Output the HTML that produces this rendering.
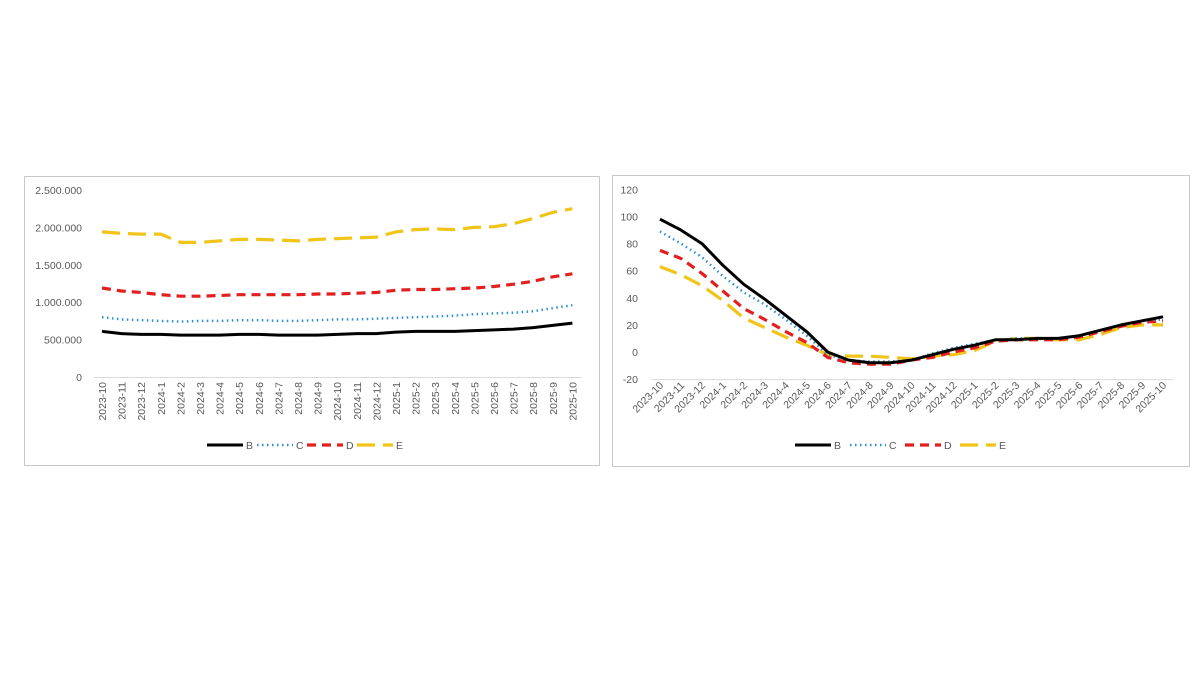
<!DOCTYPE html>
<html><head><meta charset="utf-8"><style>
html,body{margin:0;padding:0;background:#fff;}
svg{display:block;font-family:"Liberation Sans",sans-serif;}
</style></head><body>
<svg id="s" width="1200" height="675" xmlns="http://www.w3.org/2000/svg">
<rect x="24.5" y="176.5" width="575" height="289" fill="#fff" stroke="#c8c8c8"/>
<rect x="612.5" y="175.5" width="577" height="291" fill="#fff" stroke="#c8c8c8"/>
</svg>
<script>
const s=document.getElementById('s');
const NS='http://www.w3.org/2000/svg';
function el(t,a,txt){const e=document.createElementNS(NS,t);for(const k in a)e.setAttribute(k,a[k]);if(txt!==undefined)e.textContent=txt;s.appendChild(e);return e;}
const labels=[];for(let i=0;i<25;i++){let y=2023,m=10+i;while(m>12){m-=12;y++;}labels.push(y+'-'+m);}
const styles={B:{stroke:'#000',w:3,d:''},C:{stroke:'#2e8fd0',w:2.5,d:'1.5 3.5'},D:{stroke:'#e32020',w:3.2,d:'9 6'},E:{stroke:'#f0c419',w:3.2,d:'18 8'}};
const lf={0:'0',500:'500.000',1000:'1.000.000',1500:'1.500.000',2000:'2.000.000',2500:'2.500.000'};
function chart(o){
 o.ticks.forEach(t=>{const y=o.y(t);el('text',{x:o.tx,y:y+4,'text-anchor':'end','font-size':'10.5',fill:'#595959'},o.fmt(t));});
 el('line',{x1:o.x0-8,x2:o.x1+10,y1:o.y(o.ticks[0])+0.5,y2:o.y(o.ticks[0])+0.5,stroke:'#d9d9d9'});
 labels.forEach((l,i)=>{const x=o.x0+i*o.dx;
  if(o.rot===90) el('text',{transform:`translate(${x+4},${o.ly}) rotate(-90)`,'text-anchor':'end','font-size':'10.5',fill:'#595959'},l);
  else el('text',{transform:`translate(${x+4},${o.ly}) rotate(-45)`,'text-anchor':'end','font-size':'10.5',fill:'#595959'},l);});
 ['E','D','C','B'].forEach(k=>{const st=styles[k];const pts=o.data[k].map((v,i)=>(o.x0+i*o.dx).toFixed(1)+','+o.y(v).toFixed(1)).join(' ');
  el('polyline',{points:pts,fill:'none',stroke:st.stroke,'stroke-width':st.w,'stroke-dasharray':st.d,'stroke-linejoin':'round'});});
 let lx=o.lx;['B','C','D','E'].forEach(k=>{const st=styles[k];el('line',{x1:lx,x2:lx+36,y1:o.legy,y2:o.legy,stroke:st.stroke,'stroke-width':st.w,'stroke-dasharray':st.d});
  el('text',{x:lx+39,y:o.legy+4,'font-size':'10.5',fill:'#595959'},k);lx+=o.lstep;});
}
chart({x0:102,x1:572,dx:19.6,y:v=>377-v*187/2500,ticks:[0,500,1000,1500,2000,2500],
 fmt:t=>lf[t],tx:82,ly:382,rot:90,lx:207,lstep:50,legy:445,
 data:{B:[610,580,570,570,560,560,560,570,570,560,560,560,570,580,580,600,610,610,610,620,630,640,660,690,720],
 C:[800,770,760,750,740,750,750,760,760,750,750,760,770,770,780,790,800,810,820,840,850,860,880,920,960],
 D:[1190,1150,1130,1100,1080,1080,1090,1100,1100,1100,1100,1110,1110,1120,1130,1160,1170,1170,1180,1190,1210,1240,1280,1340,1380],
 E:[1940,1920,1910,1910,1800,1800,1820,1840,1840,1830,1820,1840,1850,1860,1870,1940,1970,1980,1970,2000,2010,2050,2120,2200,2250]}});
chart({x0:660,x1:1163,dx:20.96,y:v=>352-v*27.1/20,ticks:[-20,0,20,40,60,80,100,120],
 fmt:t=>String(t),tx:638,ly:386,rot:45,lx:795,lstep:55,legy:445,
 data:{B:[98,90,80,64,50,39,27,15,0,-6,-8,-8,-6,-2,2,5,9,9,10,10,12,16,20,23,26],
 C:[89,80,70,56,44,35,24,12,-2,-6,-7,-7,-6,-1,3,6,9,10,10,10,12,16,20,23,24],
 D:[75,69,58,45,32,24,15,7,-4,-8,-9,-9,-6,-4,0,3,8,9,9,9,11,15,19,22,23],
 E:[63,57,49,38,25,18,11,5,-2,-3,-3,-4,-5,-3,-2,1,8,10,10,9,9,13,18,20,20]}});
</script>
</body></html>
